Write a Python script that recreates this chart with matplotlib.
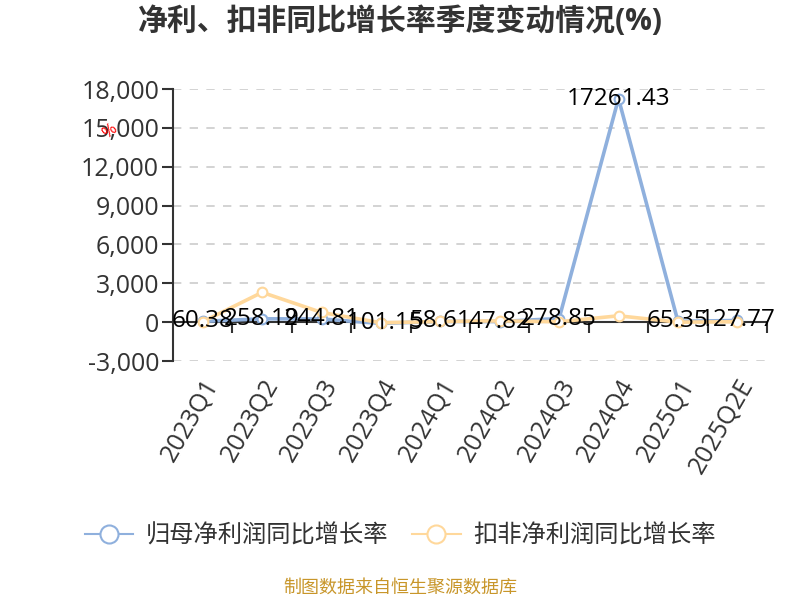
import matplotlib
matplotlib.use('Agg')
from matplotlib import pyplot as plt
from matplotlib.lines import Line2D

plt.rcParams['font.family'] = ['Open Sans', 'Noto Sans CJK SC', 'DejaVu Sans']

# - Data
quarters = ['2023Q1', '2023Q2', '2023Q3', '2023Q4', '2024Q1',
            '2024Q2', '2024Q3', '2024Q4', '2025Q1', '2025Q2E']
net_growth = [60.38, 258.19, 244.81, -101.15, 58.61, 47.82, 278.85, 17261.43, 65.35, 127.77]
deducted_growth = [30, 2300, 750, -50, 50, 100, 30, 490, 0, 30]
yticks = [-3000, 0, 3000, 6000, 9000, 12000, 15000, 18000]

series_names = ['归母净利润同比增长率', '扣非净利润同比增长率']
blue = '#8fb0dd'
orange = '#ffd89b'
axis_col = '#333333'

fig = plt.figure(figsize=(8, 6), dpi=100)
ax = fig.add_axes([173/800, 1-361/600, (767-173)/800, (361-89)/600])

x = list(range(len(quarters)))
ax.plot(x, net_growth, color=blue, lw=2.6, marker='o', ms=7, mfc='white',
        mec=blue, mew=1.5, zorder=3)
ax.plot(x, deducted_growth, color=orange, lw=2.6, marker='o', ms=7, mfc='white',
        mec=orange, mew=1.5, zorder=4)

# - Value labels (net profit series)
for xi, v in zip(x, net_growth):
    ax.text(xi, v, '%.2f' % v, ha='center', va='center', fontsize=17.5,
            color='black', zorder=6)

# - Axes limits and grid
ax.set_xlim(-0.5, len(quarters)-0.5)
ax.set_ylim(yticks[0], yticks[-1])
ax.set_yticks(yticks)
ax.set_yticklabels(['{:,}'.format(t) for t in yticks], fontsize=18, color=axis_col)
for t in yticks:
    if t != 0:
        ax.axhline(t, color='#cccccc', lw=1.2, ls=(0, (5, 5)), zorder=1)
ax.axhline(0, color=axis_col, lw=1.5, zorder=2)

for s in ['top', 'right', 'bottom']:
    ax.spines[s].set_visible(False)
ax.spines['left'].set_color(axis_col)
ax.spines['left'].set_linewidth(1.5)
ax.tick_params(axis='y', length=8, width=1.5, color=axis_col, pad=2)

ax.set_xticks(x)
ax.set_xticklabels(quarters, rotation=60, ha='right', va='top',
                   rotation_mode='anchor', fontsize=18, color=axis_col)
ax.tick_params(axis='x', length=0, pad=10)

# - Boundary ticks on the zero axis line
zero_pos = (0 - yticks[0]) / (yticks[-1] - yticks[0])
sec = ax.secondary_xaxis(zero_pos)
sec.set_xticks([i + 0.5 for i in x])
sec.set_xticklabels([])
sec.tick_params(length=8, width=1.5, color=axis_col, direction='out')
sec.spines['bottom'].set_visible(False)

# - Y axis name
fig.text(110/800, 1-131/600, '%', color='red', fontsize=12, rotation=40,
         ha='center', va='center')

# - Title
fig.text(0.5, 1-22/600, '净利、扣非同比增长率季度变动情况(%)', ha='center', va='center',
         fontsize=21.5, fontweight='bold', color=axis_col)

# - Legend
handles = [Line2D([], [], color=c, lw=1.5, marker='o', ms=13, mfc='white', mec=c, mew=1.5)
           for c in (blue, orange)]
fig.legend(handles, series_names, loc='center', bbox_to_anchor=(0.5, 1-537/600), ncol=2,
           frameon=False, fontsize=17.5, handlelength=2.0, columnspacing=1.0,
           handletextpad=0.5, labelcolor=axis_col)

# - Source
fig.text(0.5, 1-588/600, '制图数据来自恒生聚源数据库', ha='center', va='center',
         fontsize=13, color='#c8962a')

plt.savefig('out.png', dpi=100)
